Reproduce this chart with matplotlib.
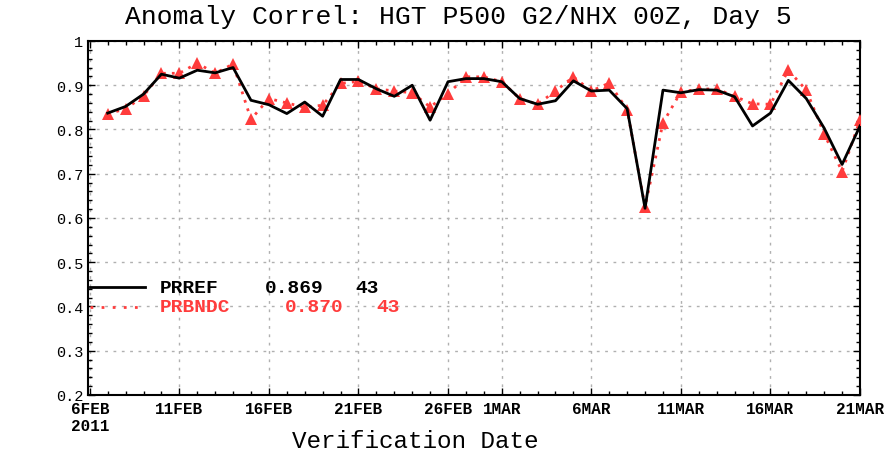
import matplotlib
matplotlib.use('Agg')
import matplotlib.pyplot as plt
import numpy as np
import datetime as dt
import matplotlib.dates as mdates

plt.rcParams['font.family'] = ['Liberation Mono', 'DejaVu Sans Mono']

# verification dates: daily, 7 FEB 2011 .. 21 MAR 2011 (43 days)
start = dt.date(2011, 2, 7)
dates = [start + dt.timedelta(days=i) for i in range(43)]

prref = [0.837, 0.852, 0.880, 0.925, 0.916, 0.934, 0.928, 0.940, 0.866, 0.856,
         0.836, 0.862, 0.830, 0.913, 0.913, 0.892, 0.875, 0.900, 0.821, 0.908,
         0.915, 0.915, 0.908, 0.870, 0.857, 0.865, 0.910, 0.887, 0.889, 0.847,
         0.622, 0.889, 0.883, 0.890, 0.889, 0.874, 0.808, 0.837, 0.911, 0.870,
         0.803, 0.721, 0.808]
prbndc = [0.836, 0.846, 0.876, 0.927, 0.927, 0.950, 0.927, 0.948, 0.823, 0.870,
          0.860, 0.850, 0.855, 0.904, 0.909, 0.892, 0.887, 0.883, 0.851, 0.881,
          0.919, 0.919, 0.908, 0.870, 0.857, 0.887, 0.919, 0.887, 0.905, 0.845,
          0.625, 0.815, 0.885, 0.891, 0.892, 0.875, 0.858, 0.857, 0.934, 0.889,
          0.790, 0.705, 0.821]

tick_dates = [dt.date(2011, 2, 6), dt.date(2011, 2, 11), dt.date(2011, 2, 16),
              dt.date(2011, 2, 21), dt.date(2011, 2, 26), dt.date(2011, 3, 1),
              dt.date(2011, 3, 6), dt.date(2011, 3, 11), dt.date(2011, 3, 16),
              dt.date(2011, 3, 21)]
tick_labels = ['6FEB\n2011', '11FEB', '16FEB', '21FEB', '26FEB', '1MAR',
               '6MAR', '11MAR', '16MAR', '21MAR']
y_ticks = [0.2, 0.3, 0.4, 0.5, 0.6, 0.7, 0.8, 0.9, 1.0]
y_labels = ['0.2', '0.3', '0.4', '0.5', '0.6', '0.7', '0.8', '0.9', '1']

red = '#ff3c3c'

fig = plt.figure(figsize=(8.95, 4.56), dpi=100)
ax = fig.add_axes([0.0983, 0.1316, 0.8626, 0.7763])

ax.plot(dates, prbndc, color=red, linestyle=(0, (1, 2.2)), linewidth=2,
        marker='^', markersize=8, markeredgewidth=0, zorder=3)
ax.plot(dates, prref, color='black', linewidth=2, zorder=4)

ax.set_xlim(mdates.date2num(dt.date(2011, 2, 6)) - 0.1, mdates.date2num(dt.date(2011, 3, 21)))
ax.set_ylim(0.2, 1.0)
ax.set_xticks(tick_dates)
ax.set_xticklabels(tick_labels, fontsize=11.5, fontweight='bold', ha='center',
                   multialignment='left')
ax.set_yticks(y_ticks)
ax.set_yticklabels(y_labels, fontsize=11)
ax.set_xticks([dt.date(2011, 2, 6) + dt.timedelta(days=i) for i in range(44)], minor=True)
ax.set_yticks(np.arange(0.2, 1.0001, 0.02), minor=True)
ax.tick_params(which='both', direction='in', top=True, right=True)
ax.tick_params(which='major', length=5, width=1)
ax.tick_params(which='minor', length=3, width=1)
ax.tick_params(axis='x', pad=4)

ax.grid(True, which='major', color='#b0b0b0', linestyle=(0, (2, 4)), linewidth=1)
for s in ax.spines.values():
    s.set_linewidth(1.5)

# legend drawn GrADS-style
ax.plot([0.003, 0.074], [0.305, 0.305], color='black', linewidth=2, transform=ax.transAxes)
ax.plot([0.003, 0.074], [0.249, 0.249], color=red, linewidth=2,
        linestyle=(0, (1, 3)), transform=ax.transAxes)
leg_rows = [('PRREF', '0.869', '43', 'black', 0.305, 0.229, 0.347),
            ('PRBNDC', '0.870', '43', red, 0.249, 0.255, 0.374)]
for name, score, n, col, yy, xs, xn in leg_rows:
    ax.text(0.093, yy, name, transform=ax.transAxes, fontsize=14,
            fontweight='bold', color=col, va='center')
    ax.text(xs, yy, score, transform=ax.transAxes, fontsize=14,
            fontweight='bold', color=col, va='center')
    ax.text(xn, yy, n, transform=ax.transAxes, fontsize=14,
            fontweight='bold', color=col, va='center')

fig.text(0.512, 0.962, 'Anomaly Correl: HGT P500 G2/NHX 00Z, Day 5', ha='center',
         va='center', fontsize=19)
fig.text(0.464, 0.031, 'Verification Date', ha='center', va='center', fontsize=17.5)

fig.savefig('out.png', dpi=100)
